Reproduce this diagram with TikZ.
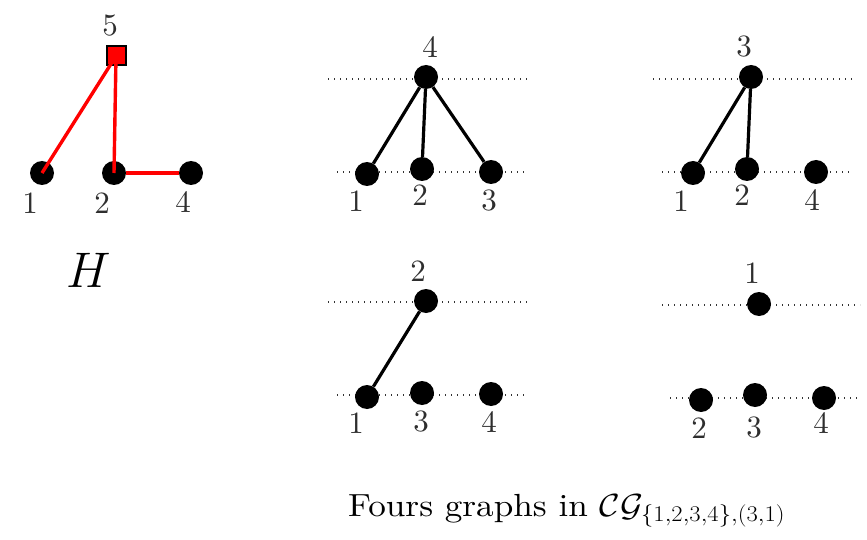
\RequirePackage{fix-cm}
\documentclass[tikz,border=0pt]{standalone}
\usepackage{fontspec}
\setmainfont{lmroman10-regular}[Extension=.otf,ItalicFont=lmroman10-italic,BoldFont=lmroman10-bold]
\begin{document}
\begin{tikzpicture}[x=1pt,y=-1pt,
  vtx/.style={circle,fill=black,minimum size=24pt,inner sep=0pt},
  sq/.style={rectangle,fill=red,draw=black,line width=2pt,minimum size=19pt,inner sep=0pt},
  lbl/.style={font=\fontsize{31}{33}\selectfont,text=black!82,inner sep=0pt},
  edge/.style={line width=3.2pt,black},
  redge/.style={line width=3.4pt,red},
  guide/.style={line width=1.4pt,dash pattern=on 1.4pt off 4.6pt,black!80}]
\useasboundingbox (0,0) rectangle (867,540);

% ---------- H ----------
\node[vtx] (h1) at (42,173) {};
\node[vtx] (h2) at (114,173) {};
\node[vtx] (h4) at (191,173) {};
\node[sq] (h5) at (116,56) {};
\draw[redge] (h5.center) -- (h1.center);
\draw[redge] (h5.center) -- (h2.center);
\draw[redge] (h2) -- (h4);
\node[lbl] (lh5) at (110,26) {5};
\node[lbl] (lh1) at (30,203) {1};
\node[lbl] (lh2) at (102,203) {2};
\node[lbl] (lh4) at (183,202) {4};
\node[font=\fontsize{50}{52}\selectfont,inner sep=0pt] (Hlab) at (89,270) {$H$};

% ---------- graph A (top middle) ----------
\draw[guide] (328,79) -- (527,79);
\draw[guide] (337,172) -- (527,172);
\node[vtx] (a4) at (426,77) {};
\node[vtx] (a1) at (367,174) {};
\node[vtx] (a2) at (422,169) {};
\node[vtx] (a3) at (491,172) {};
\draw[edge] (a4) -- (a1);
\draw[edge] (a4) -- (a2);
\draw[edge] (a4) -- (a3);
\node[lbl] (la4) at (430,47) {4};
\node[lbl] (la1) at (356,201) {1};
\node[lbl] (la2) at (420,195) {2};
\node[lbl] (la3) at (489,201) {3};

% ---------- graph B (top right) ----------
\draw[guide] (653,79) -- (852,79);
\draw[guide] (662,172) -- (852,172);
\node[vtx] (b3) at (751,77) {};
\node[vtx] (b1) at (693,173) {};
\node[vtx] (b2) at (747,169) {};
\node[vtx] (b4) at (816,172) {};
\draw[edge] (b3) -- (b1);
\draw[edge] (b3) -- (b2);
\node[lbl] (lb3) at (744,47) {3};
\node[lbl] (lb1) at (681,201) {1};
\node[lbl] (lb2) at (742,195) {2};
\node[lbl] (lb4) at (812,200) {4};

% ---------- graph C (bottom middle) ----------
\draw[guide] (328,302) -- (527,302);
\draw[guide] (337,395) -- (527,395);
\node[vtx] (c2) at (426,301) {};
\node[vtx] (c1) at (367,397) {};
\node[vtx] (c3) at (422,393) {};
\node[vtx] (c4) at (491,394) {};
\draw[edge] (c2) -- (c1);
\node[lbl] (lc2) at (418,271) {2};
\node[lbl] (lc1) at (356,423) {1};
\node[lbl] (lc3) at (421,422) {3};
\node[lbl] (lc4) at (489,422) {4};

% ---------- graph D (bottom right) ----------
\draw[guide] (662,305) -- (860,305);
\draw[guide] (670,398) -- (860,398);
\node[vtx] (d1) at (759,304) {};
\node[vtx] (d2) at (701,400) {};
\node[vtx] (d3) at (755,395) {};
\node[vtx] (d4) at (824,398) {};
\node[lbl] (ld1) at (752,273) {1};
\node[lbl] (ld2) at (699,428) {2};
\node[lbl] (ld3) at (754,428) {3};
\node[lbl] (ld4) at (821,423) {4};

% ---------- caption ----------
\node[font=\fontsize{32}{34}\selectfont,inner sep=0pt,anchor=base west] (cap) at (348,516)
  {\scalebox{1.10}[1]{Fours graphs in $\mathcal{C}\mathcal{G}_{\{1,2,3,4\},(3,1)}$}};
\end{tikzpicture}
\end{document}
